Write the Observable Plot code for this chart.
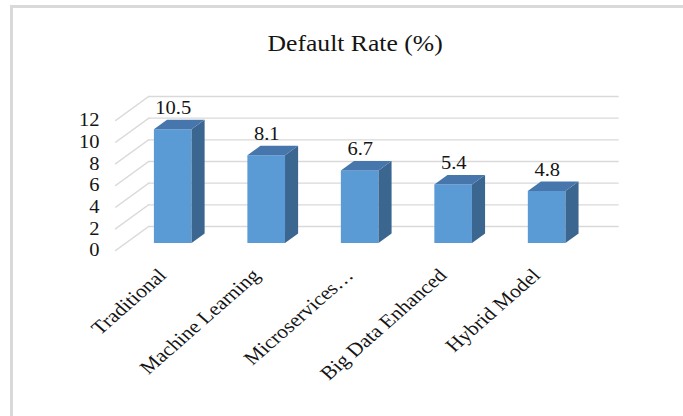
<!DOCTYPE html>
<html>
<head>
<meta charset="utf-8">
<script src="https://cdn.jsdelivr.net/npm/d3@7"></script>
<script src="https://cdn.jsdelivr.net/npm/@observablehq/plot@0.6"></script>
<style>
  html, body { margin: 0; padding: 0; background: #fff; width: 683px; height: 416px; overflow: hidden; }
  #border {
    position: absolute; left: 10px; top: 5px; width: 720px; height: 450px;
    border-left: 3px solid #d9d9d9; border-top: 3px solid #d9d9d9; box-sizing: border-box;
  }
  #chart {
    position: absolute; left: 0; top: 0; width: 599px;
    transform: scaleX(1.14); transform-origin: 0 0;
    font-family: "Liberation Serif", "Times New Roman", serif; color: #141414;
  }
  #title {
    height: 70px; box-sizing: border-box; padding-top: 33.4px; padding-left: 24px;
    font-size: 22.5px; line-height: 22px; text-align: center; white-space: nowrap;
  }
</style>
</head>
<body>
<div id="border"></div>
<div id="chart"><div id="title">Default Rate (%)</div></div>
<script>
// Default rate by credit risk model
const categories = ["Traditional", "Machine Learning", "Microservices…", "Big Data Enhanced", "Hybrid Model"];
const defaultRates = [10.5, 8.1, 6.7, 5.4, 4.8];
const yTicks = [0, 2, 4, 6, 8, 10, 12];

const data = categories.map((category, i) => ({category, rate: defaultRates[i]}));

// 3-D box depth of each column (pixels), and the floor depth of the grid
const DEPTH_X = 11.5, DEPTH_Y = 9.5;
const WALL_DX = 20.5, WALL_DY = -17;   // bar plane -> back wall
const FRONT_DX = -8.5, FRONT_DY = 7;   // bar plane -> front edge of the floor

const width = 599, height = 346;
const marginLeft = 109.4, marginRight = 76.8, marginTop = 43, marginBottom = 173;
const xOptions = {type: "band", domain: categories, paddingInner: 0.6, paddingOuter: 0.3};
const bandwidth = Plot.scale({x: {...xOptions, range: [marginLeft, width - marginRight]}}).bandwidth;

// a plain straight segment, used for the receding gridlines on the side wall
const edge = {draw(context, length) { context.moveTo(0, 0); context.lineTo(0, -length); }};
const wallLength = Math.hypot(WALL_DX - FRONT_DX, WALL_DY - FRONT_DY);
const wallAngle = Math.atan2(WALL_DX - FRONT_DX, FRONT_DY - WALL_DY) * 180 / Math.PI;

const font = '"Liberation Serif", "Times New Roman", serif';

const plot = Plot.plot({
  width, height, marginLeft, marginRight, marginTop, marginBottom,
  x: {...xOptions, axis: null},
  y: {domain: [0, 12], axis: null},
  style: {fontFamily: font, fontSize: "18px", color: "#141414", background: "transparent", overflow: "visible"},
  marks: [
    // back wall gridlines
    Plot.ruleY(yTicks, {stroke: "#d9d9d9", strokeWidth: 1.3, dx: WALL_DX, dy: WALL_DY}),
    // side wall gridlines, receding from the front edge to the back wall
    Plot.vector(yTicks, {
      y: d => d, frameAnchor: "left", dx: FRONT_DX, dy: FRONT_DY,
      length: wallLength, rotate: wallAngle, anchor: "start", shape: edge,
      stroke: "#d9d9d9", strokeWidth: 1.3
    }),
    // column front faces
    Plot.barY(data, {x: "category", y: "rate", fill: "#5b9bd5"}),
    // column side faces (skewed below)
    Plot.barY(data, {x: "category", y: "rate", fill: "#3b6690", dx: bandwidth, insetRight: bandwidth - DEPTH_X}),
    // column top faces (skewed below)
    Plot.barY(data, {x: "category", y1: "rate", y2: "rate", fill: "#4676ab", insetTop: -DEPTH_Y}),
    // value labels
    Plot.text(data, {x: "category", y: "rate", text: d => d.rate.toFixed(1), dy: -21.5, fontSize: 18}),
    // value axis labels, on the front edge of the floor
    Plot.text(yTicks, {
      y: d => d, text: d => String(d), frameAnchor: "left", textAnchor: "end",
      dx: -22.6, dy: FRONT_DY, fontSize: 18
    }),
    // category labels
    Plot.text(categories, {
      x: d => d, frameAnchor: "bottom", rotate: -45, textAnchor: "end",
      dx: -5, dy: 33, fontSize: 19
    })
  ]
});

// turn the side and top rectangles into the receding faces of each box
const barGroups = plot.querySelectorAll('g[aria-label="bar"]');
const sideSkew = -Math.atan2(DEPTH_Y, DEPTH_X) * 180 / Math.PI;
const topSkew = -Math.atan2(DEPTH_X, DEPTH_Y) * 180 / Math.PI;
barGroups[1].querySelectorAll("rect").forEach(r => {
  r.style.transformBox = "fill-box";
  r.style.transformOrigin = "0 0";
  r.style.transform = `skewY(${sideSkew}deg)`;
});
barGroups[2].querySelectorAll("rect").forEach(r => {
  r.style.transformBox = "fill-box";
  r.style.transformOrigin = "0 100%";
  r.style.transform = `skewX(${topSkew}deg)`;
});

document.getElementById("chart").append(plot);
</script>
</body>
</html>
